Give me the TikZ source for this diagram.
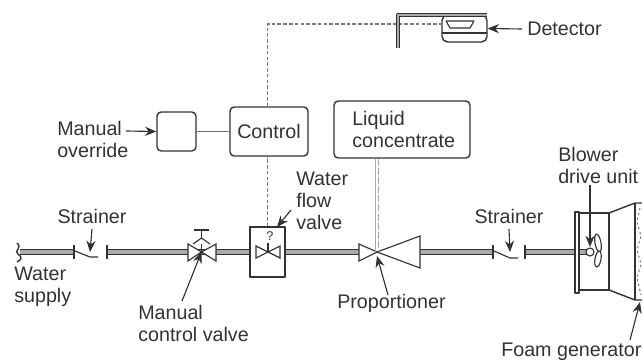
\documentclass[tikz,border=0pt]{standalone}
\usepackage{fontspec}
\setmainfont{Liberation Sans}
\usetikzlibrary{arrows.meta}
\definecolor{inkgrey}{RGB}{50,50,50}
\definecolor{pipegrey}{RGB}{170,170,170}
\tikzset{
  lbl/.style={font=\fontsize{14}{15.6}\selectfont,text=inkgrey,align=left,inner sep=0pt},
  ctrlbox/.style={draw=inkgrey,line width=1pt,rounded corners=3pt,inner sep=0pt},
  pipe/.style={draw=inkgrey,line width=0.8pt,double=pipegrey,double distance=2.4pt},
  callout/.style={-{Stealth[length=8pt,width=6.5pt]},inkgrey,line width=0.8pt},
  thinline/.style={inkgrey,line width=0.8pt},
  sigline/.style={inkgrey!65,line width=1.1pt,dash pattern=on 2.6pt off 1.5pt},
  valveline/.style={inkgrey,line width=0.8pt,fill=white,line join=miter},
}
\begin{document}
\begin{tikzpicture}[line cap=butt,line join=round,x=0.025cm,y=-0.025cm]
\useasboundingbox (0,0) rectangle (642,360);
\clip (0,0) rectangle (642,360);
% boxes
\node[ctrlbox,minimum width=39*0.025cm,minimum height=39*0.025cm] (overridebox) at (176.5,131.5) {};
\node[ctrlbox,lbl,draw=inkgrey,line width=1pt,rounded corners=3pt,minimum width=78*0.025cm,minimum height=49*0.025cm] (controlbox) at (269,131.5) {Control};
\node[ctrlbox,minimum width=136*0.025cm,minimum height=57*0.025cm] (concbox) at (402,129.5) {};
\node[lbl,anchor=north west] (conctxt) at (352,111) {Liquid\\concentrate};
\node[draw=inkgrey,line width=1pt,minimum width=35*0.025cm,minimum height=50*0.025cm,inner sep=0pt] (flowbox) at (267.5,252) {};
\node[ctrlbox,rounded corners=4pt,minimum width=45*0.025cm,minimum height=27*0.025cm] (detbox) at (464.5,28.5) {};
% labels
\node[lbl,anchor=west] (detlbl) at (527,29) {Detector};
\node[lbl,anchor=north west] (overridelbl) at (57,121) {Manual\\override};
\node[lbl,anchor=north west] (flowlbl) at (296,172) {Water\\flow\\valve};
\node[lbl,anchor=north] (straineralbl) at (92,209) {Strainer};
\node[lbl,anchor=north] (strainerblbl) at (509,209) {Strainer};
\node[lbl,anchor=north west] (supplylbl) at (14,267) {Water\\supply};
\node[lbl,anchor=north west] (manuallbl) at (138,305) {Manual\\control valve};
\node[lbl,anchor=north west] (proplbl) at (337,294) {Proportioner};
\node[lbl,anchor=north west] (blowerlbl) at (558,147) {Blower\\drive unit};
\node[lbl,anchor=north west] (foamlbl) at (501,343) {Foam generator};
% pipe points
\coordinate (pipestart) at (20,252);
\coordinate (flangea) at (74,252);
\coordinate (flangeb) at (107,252);
\coordinate (manualc) at (201.5,252);
\coordinate (propc) at (377,252);
\coordinate (propin) at (359,252);
\coordinate (propout) at (420,252);
\coordinate (flangec) at (493,252);
\coordinate (flanged) at (525,252);
\coordinate (hubc) at (590,252);
\draw[pipe] (pipestart) -- (flangea);
\draw[pipe] (flangeb) -- (manualc);
\draw[pipe] (manualc) -- (flowbox.west);
\draw[pipe] (flowbox.east) -- (propin);
\draw[pipe] (propout) -- (flangec);
\draw[pipe] (flanged) -- (hubc);
\draw[inkgrey,line width=1pt] (17,243) .. controls (23,248) and (13,251) .. (18,254) .. controls (23,257) and (21,260) .. (17,262);
% strainers
\foreach \fl in {flangea,flangeb,flangec,flanged} {
  \draw[inkgrey,line width=1.2pt] ([yshift=0.17cm]\fl) -- ([yshift=-0.17cm]\fl);
}
\draw[thinline] (75,251) -- (90,257) -- (98,257);
\draw[thinline] (494,251) -- (510,258) -- (518,258);
\coordinate (strainera) at (90,252);
\coordinate (strainerb) at (510,252);
\draw[callout] (straineralbl.south) ++(0,5) -- (strainera);
\draw[callout] (strainerblbl.south) ++(0,5) -- (strainerb);
% manual valve
\draw[valveline] (manualc) -- (188,244) -- (188,261) -- cycle;
\draw[valveline] (manualc) -- (216,244) -- (216,261) -- cycle;
\draw[valveline] (manualc) -- (201.5,231);
\draw[valveline] (193,244) -- (201.5,238) -- (210,244);
\draw[inkgrey,line width=1.3pt] (194,230) -- (209,230);
\coordinate (manualtail) at (182,301);
\draw[callout] (manualtail) -- (manualc);
% flow valve
\coordinate (flowc) at (268,252);
\draw[valveline] (flowc) -- (256,246) -- (256,258) -- cycle;
\draw[valveline] (flowc) -- (280,246) -- (280,258) -- cycle;
\draw[thinline] (268,252) -- (268,243);
\node[font=\fontsize{9}{9}\selectfont,text=inkgrey,inner sep=0pt] (flowact) at (270,236) {?};
\coordinate (flowtail) at (291,210);
\draw[callout] (flowtail) -- (277,227);
% proportioner
\draw[valveline] (propc) -- (propin |- 0,244) -- (propin |- 0,261) -- cycle;
\draw[valveline] (propc) -- (propout |- 0,236) -- (propout |- 0,268) -- cycle;
\draw[black!35,line width=0.5pt] ([xshift=-0.03cm]concbox.south -| propc) -- ([xshift=-0.03cm]propc);
\draw[black!35,line width=0.5pt,dash pattern=on 5pt off 1.5pt] ([xshift=0.04cm]concbox.south -| propc) -- ([xshift=0.04cm]propc);
\coordinate (proptail) at (388,295);
\draw[callout] (proptail) -- (377,256);
% control lines
\draw[sigline] (flowbox.north) -- (controlbox.south -| flowbox.north);
\draw[sigline] (controlbox.north -| flowbox.north) -- (267.5,24) -- (detbox.west |- 267.5,24);
\draw[inkgrey!70,line width=1.3pt] (overridebox) -- (controlbox);
\coordinate (overridetail) at (126,131);
\draw[callout] (overridetail) -- (overridebox.west);
% detector
\draw[inkgrey,line width=0.7pt,double=pipegrey,double distance=1.4pt] (398,48) -- (398,15) -- (487,15);
\draw[thinline] (446,21) -- (474,21) -- (470,28) -- (450,28) -- cycle;
\draw[thinline] (442,33) -- (487,33);
\draw[callout] (detlbl.west) ++(-5,0) -- (detbox.east);
% foam generator
\draw[inkgrey,line width=1pt,fill=white] (575,212) rectangle (579,293);
\draw[inkgrey,line width=1pt] (579,213) rectangle (609,290);
\draw[inkgrey,line width=1pt] (609,213) -- (635,203) -- (645,203);
\draw[inkgrey,line width=1pt] (609,290) -- (635,300) -- (645,300);
\draw[inkgrey,line width=1pt] (635,203) -- (635,300);
\draw[inkgrey!70,line width=0.7pt,dash pattern=on 1.5pt off 2pt] (640,208) -- (637,222) -- (641,236) -- (637,250) -- (641,264) -- (637,278) -- (641,295);
% fan
\draw[thinline,fill=white,rotate around={10:(598,243)}] (598,243) ellipse (3 and 9);
\draw[thinline,fill=white,rotate around={-10:(598,259)}] (598,259) ellipse (3 and 8);
\draw[thinline,fill=white] (hubc) circle (4);
\coordinate (blowertail) at (590,185);
\draw[callout] (blowertail) -- (590,247);
\coordinate (foamtail) at (630,340);
\draw[callout] (foamtail) -- (640,302);
\end{tikzpicture}
\end{document}
